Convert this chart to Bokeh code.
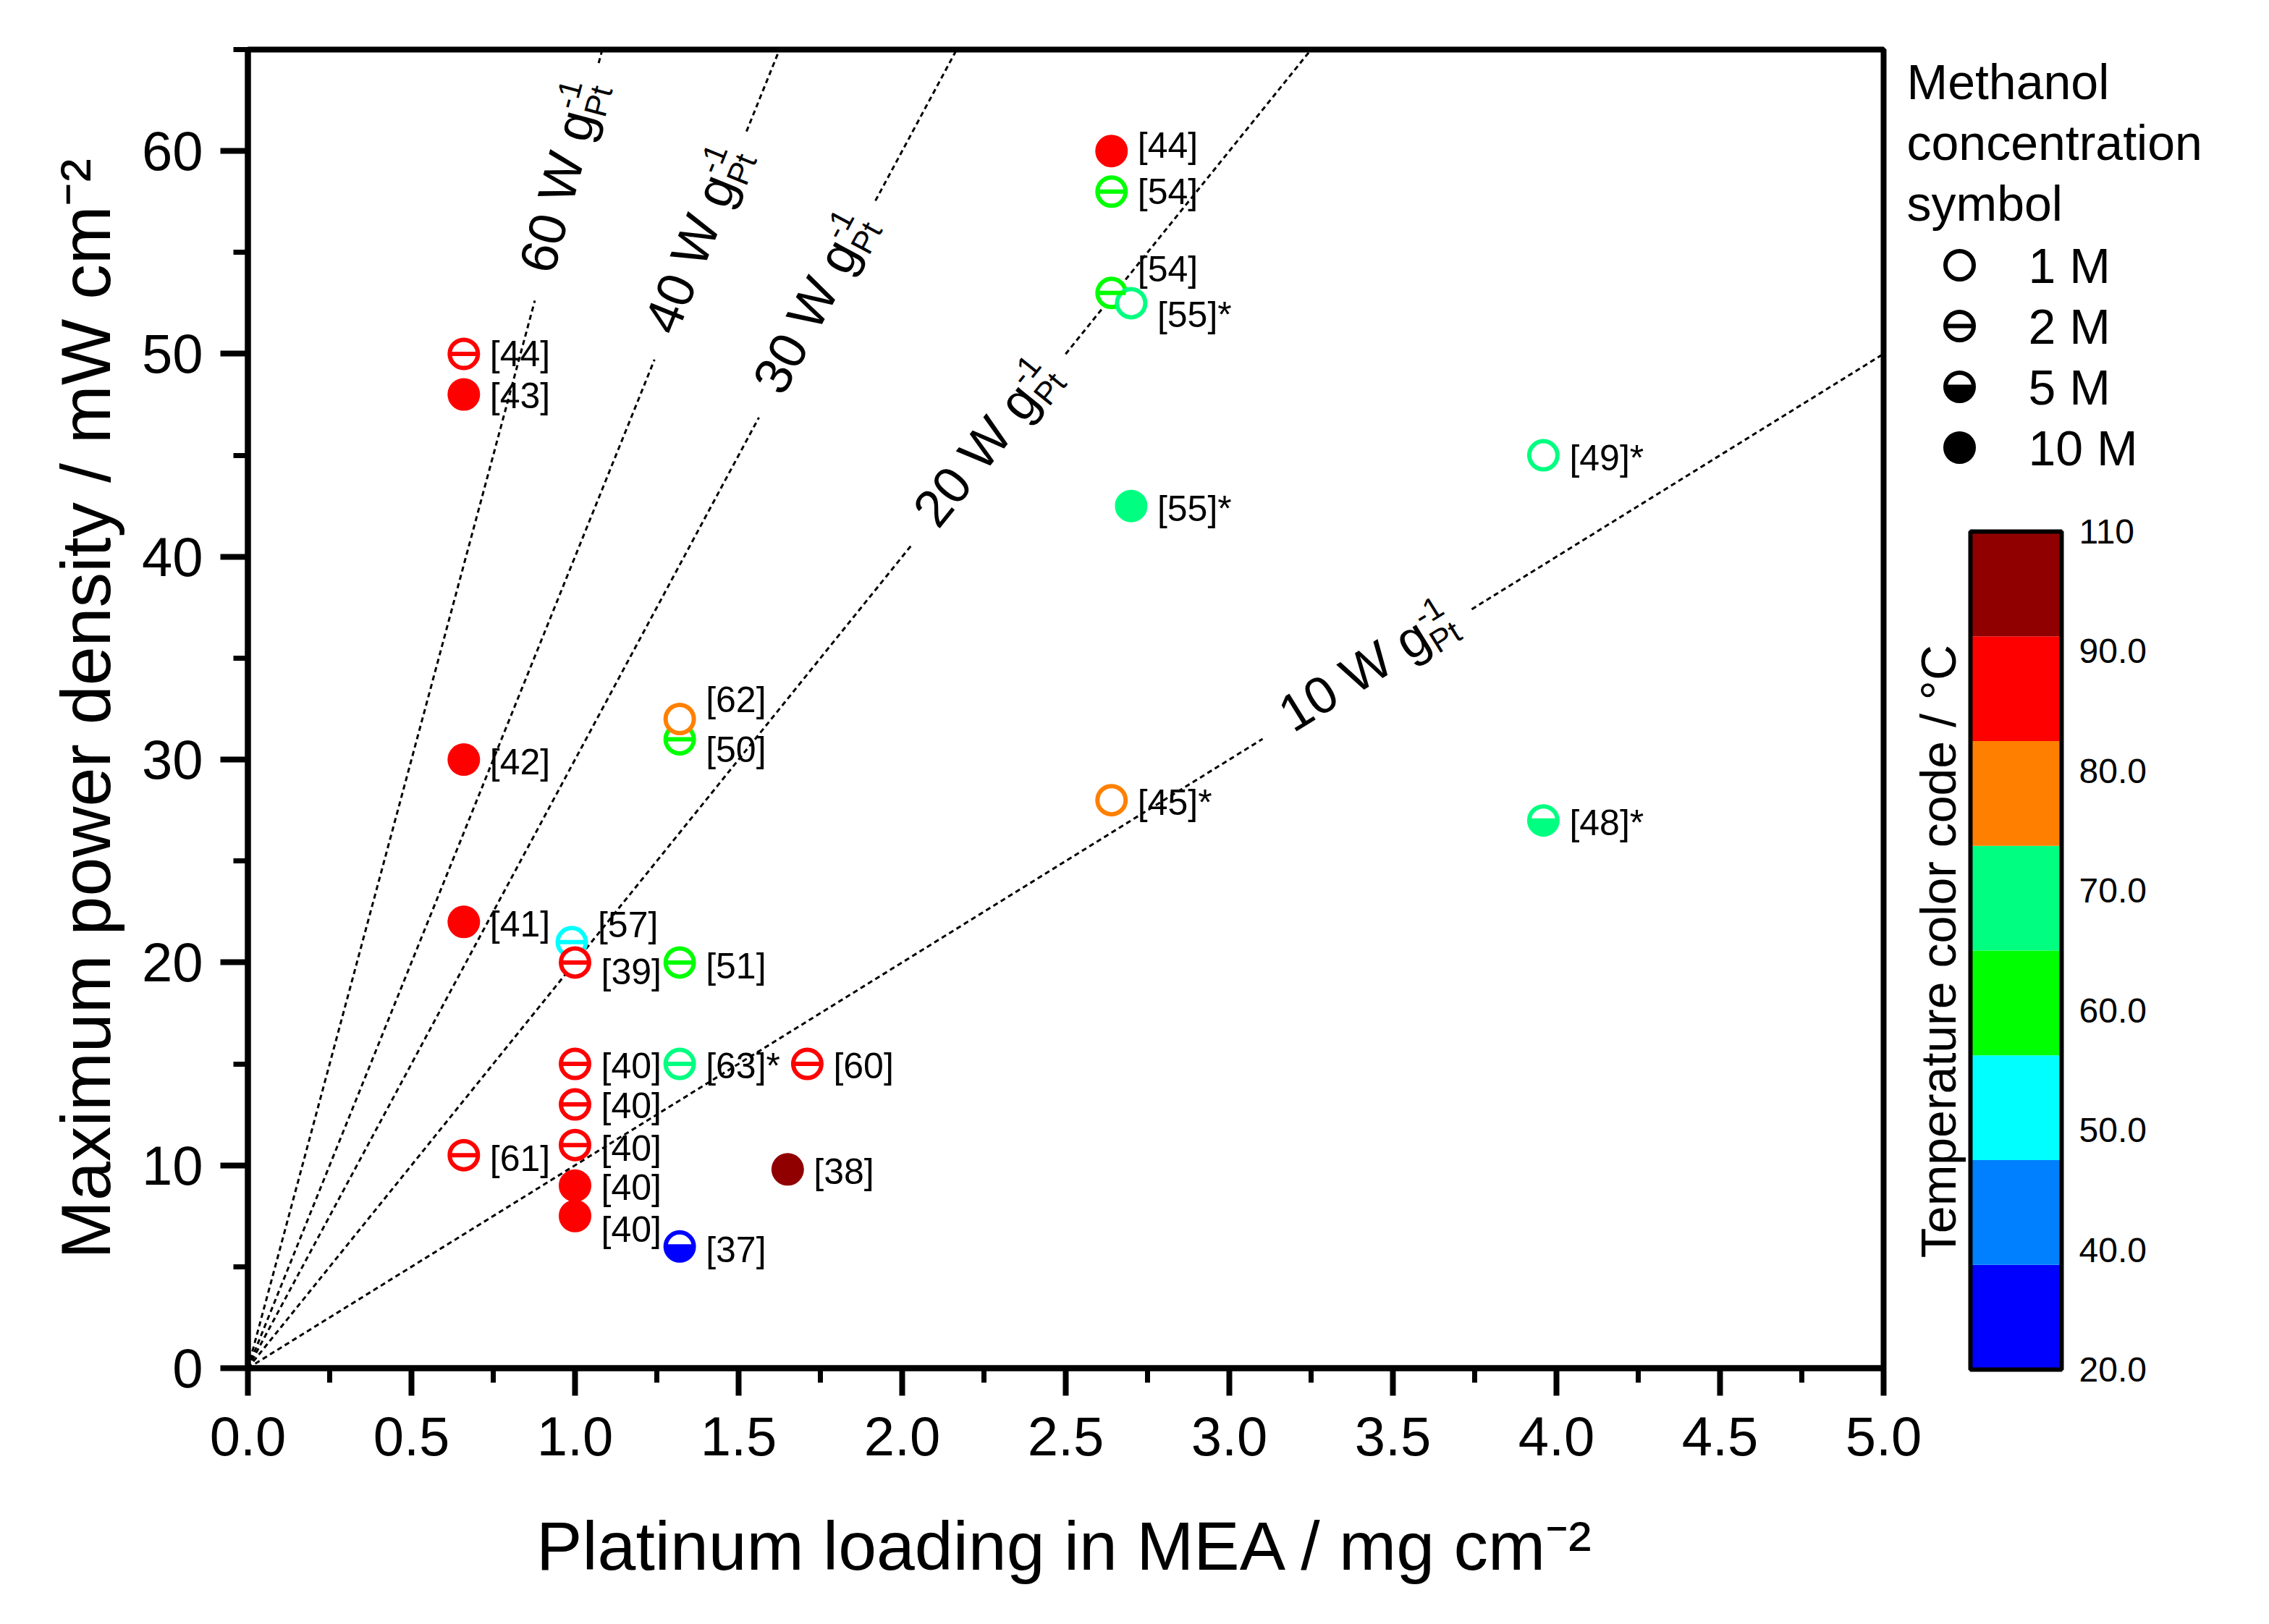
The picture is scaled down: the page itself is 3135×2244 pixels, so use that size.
import math
from bokeh.plotting import figure
from bokeh.models import Range1d, SingleIntervalTicker, NumeralTickFormatter
from bokeh.layouts import row, column
from bokeh.core.properties import value
from bokeh.embed import file_html
from bokeh.resources import INLINE

# ---------------- data ----------------
refs = ["[44]", "[54]", "[54]", "[55]*", "[55]*", "[49]*", "[48]*", "[45]*",
        "[44]", "[43]", "[42]", "[41]", "[61]", "[57]", "[39]", "[40]", "[40]",
        "[40]", "[40]", "[40]", "[50]", "[62]", "[51]", "[63]*", "[37]", "[38]", "[60]"]
pt_loading = [2.64, 2.64, 2.64, 2.70, 2.70, 3.96, 3.96, 2.64,
              0.66, 0.66, 0.66, 0.66, 0.66, 0.99, 1.00, 1.00, 1.00,
              1.00, 1.00, 1.00, 1.32, 1.32, 1.32, 1.32, 1.32, 1.65, 1.71]
power_density = [60, 58, 53, 52.5, 42.5, 45, 27, 28,
                 50, 48, 30, 22, 10.5, 21, 20, 15, 13,
                 11, 9, 7.5, 31, 32, 20, 15, 6, 9.8, 15]
temperature_C = [90, 60, 60, 70, 70, 70, 70, 80,
                 90, 90, 90, 90, 90, 50, 90, 90, 90,
                 90, 90, 90, 60, 80, 60, 70, 25, 100, 90]
methanol_M = [10, 2, 2, 1, 10, 1, 5, 1,
              2, 10, 10, 10, 2, 2, 2, 2, 2,
              2, 10, 10, 2, 1, 2, 2, 5, 10, 2]

rate_W_per_g = [10, 20, 30, 40, 60]
rate_texts = ["10 W g", "20 W g", "30 W g", "40 W g", "60 W g"]
rate_sup = "-1"
rate_sub = "Pt"

conc_levels = [1, 2, 5, 10]
conc_labels = ["1 M", "2 M", "5 M", "10 M"]
legend_title_lines = ["Methanol", "concentration", "symbol"]

band_lower_C = [20, 40, 50, 60, 70, 80, 90, 100]
band_colors = ["#0000FF", "#0080FF", "#00FFFF", "#00FF00",
               "#00FF80", "#FF8000", "#FF0000", "#910000"]
cbar_tick_labels = ["20.0", "40.0", "50.0", "60.0", "70.0", "80.0", "90.0", "110"]
cbar_title = "Temperature color code / °C"

x_title = "Platinum loading in MEA / mg cm\u207b\u00b2"
y_title = "Maximum power density / mW cm\u207b\u00b2"

# ---------------- layout / style ----------------
FONT = "Liberation Sans"
X_MIN, X_MAX = 0.0, 5.0
Y_MIN, Y_MAX = 0.0, 65.0
FRAME_W, FRAME_H = 2260, 1822
BORDER_L, BORDER_T, BORDER_B, BORDER_R = 342, 68, 320, 60
SX = FRAME_W / (X_MAX - X_MIN)
SY = FRAME_H / (Y_MAX - Y_MIN)

rate_label_x = [3.177, 2.083, 1.604, 1.276, 0.900]   # where each rate label starts along its line
label_dx_px = 36
label_dy_px = [-8, 0, -33, 16, 4, 4, 3, 3,
               0, 2, 3, 3, 5, -24, 13, 3, 2,
               5, 3, 19, 14, -27, 5, 3, 5, 3, 3]

R = 19.5      # marker radius (px)
RING_W = 6
MID = 0.35    # cap-middle above baseline, in font sizes


def temp_color(t):
    idx = 0
    for i, lo in enumerate(band_lower_C):
        if t >= lo:
            idx = i
    return band_colors[idx]


def draw_symbols(fig, xs, ys, colors, concs):
    w = [i for i, c in enumerate(concs) if c == 5]
    if w:
        fig.wedge(x=[xs[i] for i in w], y=[ys[i] for i in w], radius=R,
                  radius_units="screen", start_angle=math.pi, end_angle=2 * math.pi,
                  fill_color=[colors[i] for i in w], line_color=None)
    fills = [colors[i] if concs[i] == 10 else "white" for i in range(len(xs))]
    alphas = [0.0 if c == 5 else 1.0 for c in concs]
    fig.scatter(x=xs, y=ys, marker="circle", size=2 * R, line_width=RING_W,
                line_color=colors, fill_color=fills, fill_alpha=alphas)
    d = [i for i, c in enumerate(concs) if c in (2, 5)]
    if d:
        fig.scatter(x=[xs[i] for i in d], y=[ys[i] for i in d], marker="dash",
                    size=2 * R, line_width=RING_W, line_color=[colors[i] for i in d])


# ---------------- main plot ----------------
p = figure(frame_width=FRAME_W, frame_height=FRAME_H,
           x_range=Range1d(X_MIN, X_MAX), y_range=Range1d(Y_MIN, Y_MAX),
           output_backend="svg", toolbar_location=None, title=None,
           min_border_left=BORDER_L, min_border_right=BORDER_R,
           min_border_top=BORDER_T, min_border_bottom=BORDER_B)
p.xgrid.visible = False
p.ygrid.visible = False
p.outline_line_color = "black"
p.outline_line_width = 8
p.background_fill_color = "white"
p.border_fill_color = "white"

p.xaxis.ticker = SingleIntervalTicker(interval=0.5, num_minor_ticks=2)
p.yaxis.ticker = SingleIntervalTicker(interval=10, num_minor_ticks=2)
p.xaxis.formatter = NumeralTickFormatter(format="0.0")
p.xaxis.axis_label = x_title
p.yaxis.axis_label = y_title
for ax in (p.xaxis, p.yaxis):
    ax.axis_line_width = 8
    ax.axis_line_color = "black"
    ax.major_tick_line_width = 8
    ax.minor_tick_line_width = 7
    ax.major_tick_line_color = "black"
    ax.minor_tick_line_color = "black"
    ax.major_tick_out = 38
    ax.major_tick_in = 0
    ax.minor_tick_out = 20
    ax.minor_tick_in = 0
    ax.major_label_text_font = FONT
    ax.major_label_text_font_size = "76px"
    ax.major_label_text_color = "black"
    ax.axis_label_text_font = FONT
    ax.axis_label_text_font_style = "normal"
    ax.axis_label_text_color = "black"
p.xaxis.axis_label_text_font_size = "95px"
p.yaxis.axis_label_text_font_size = "97px"
p.xaxis.major_label_standoff = 29
p.yaxis.major_label_standoff = 24
p.xaxis.axis_label_standoff = 69
p.yaxis.axis_label_standoff = 20

# constant specific-power lines with their labels
F_MAIN, F_SMALL = 72, 44
W_MAIN = 3.168 * F_MAIN
BASE_OFF = -16                      # main-text baseline offset from the line (px)
line_xs, line_ys = [], []
lab = {"mx": [], "my": [], "mt": [], "ang": [], "sx": [], "sy": [], "bx": [], "by": []}
for r, t, txt in zip(rate_W_per_g, rate_label_x, rate_texts):
    th = math.atan(r * SY / SX)
    ux, uy = math.cos(th), math.sin(th)
    vx, vy = -math.sin(th), math.cos(th)

    def at(along, up, t=t, r=r, ux=ux, uy=uy, vx=vx, vy=vy):
        return (t + (along * ux + up * vx) / SX, r * t + (along * uy + up * vy) / SY)

    gap_lo = t - 40 * ux / SX
    gap_hi = t + 300 * ux / SX
    x_end = min(X_MAX, Y_MAX / r)
    line_xs += [[0, gap_lo], [gap_hi, x_end]]
    line_ys += [[0, r * gap_lo], [r * gap_hi, r * x_end]]
    mx, my = at(0, BASE_OFF + MID * F_MAIN)
    sx_, sy_ = at(W_MAIN, BASE_OFF + 0.42 * F_MAIN + MID * F_SMALL)
    bx, by = at(W_MAIN, BASE_OFF - 0.17 * F_MAIN + MID * F_SMALL)
    lab["mx"].append(mx); lab["my"].append(my); lab["mt"].append(txt); lab["ang"].append(th)
    lab["sx"].append(sx_); lab["sy"].append(sy_)
    lab["bx"].append(bx); lab["by"].append(by)

p.multi_line(xs=line_xs, ys=line_ys, line_color="black", line_width=3, line_dash="7 5")
p.text(x=lab["mx"], y=lab["my"], text=lab["mt"], angle=lab["ang"],
       text_font=value(FONT), text_font_size=f"{F_MAIN}px", text_align="left",
       text_baseline="middle", text_color="black")
p.text(x=lab["sx"], y=lab["sy"], text=[rate_sup] * len(rate_W_per_g), angle=lab["ang"],
       text_font=value(FONT), text_font_size=f"{F_SMALL}px", text_align="left",
       text_baseline="middle", text_color="black")
p.text(x=lab["bx"], y=lab["by"], text=[rate_sub] * len(rate_W_per_g), angle=lab["ang"],
       text_font=value(FONT), text_font_size=f"{F_SMALL}px", text_align="left",
       text_baseline="middle", text_color="black")

# data points
pt_colors = [temp_color(t) for t in temperature_C]
draw_symbols(p, pt_loading, power_density, pt_colors, methanol_M)

lx = [x + label_dx_px / SX for x in pt_loading]
ly = [y - dy / SY for y, dy in zip(power_density, label_dy_px)]
p.text(x=lx, y=ly, text=refs, text_font=value(FONT), text_font_size="50px",
       text_align="left", text_baseline="middle", text_color="black")

# ---------------- right panel: symbol legend + colour bar ----------------
# panel coordinates in px: x from the main frame's right edge, y upward from panel bottom
W2 = 500
H2 = BORDER_T + FRAME_H + BORDER_B
p2 = figure(width=W2, height=H2,
            x_range=Range1d(0, W2), y_range=Range1d(0, H2),
            output_backend="svg", toolbar_location=None, title=None,
            x_axis_location=None, y_axis_location=None,
            min_border=0, min_border_left=0, min_border_right=0,
            min_border_top=0, min_border_bottom=0)
p2.outline_line_color = None
p2.xgrid.visible = False
p2.ygrid.visible = False
p2.background_fill_color = None
p2.border_fill_color = None

TOP_SHIFT = 2      # reference px above the panel's top edge


def yt(v):
    return H2 - (v - TOP_SHIFT)


p2.text(x=[32] * len(legend_title_lines),
        y=[yt(138 - MID * 68 + 84 * i) for i in range(len(legend_title_lines))],
        text=legend_title_lines, text_font=value(FONT), text_font_size="68px",
        text_align="left", text_baseline="middle", text_color="black")

leg_y = [yt(368 + 84 * i) for i in range(len(conc_levels))]
draw_symbols(p2, [105] * len(conc_levels), leg_y, ["black"] * len(conc_levels), conc_levels)
p2.text(x=[200] * len(conc_labels), y=leg_y, text=conc_labels,
        text_font=value(FONT), text_font_size="68px", text_align="left",
        text_baseline="middle", text_color="black")

CB_L, CB_R, CB_T, CB_B = 120, 246, 736, 1894
band_h = (CB_B - CB_T) / len(band_colors)
p2.quad(left=CB_L, right=CB_R,
        bottom=[yt(CB_B) + i * band_h for i in range(len(band_colors))],
        top=[yt(CB_B) + (i + 1) * band_h for i in range(len(band_colors))],
        fill_color=band_colors, line_color=None)
p2.quad(left=[CB_L], right=[CB_R], bottom=[yt(CB_B)], top=[yt(CB_T)],
        fill_color=None, line_color="black", line_width=6)
tick_step = (CB_B - CB_T) / (len(cbar_tick_labels) - 1)
p2.text(x=[270] * len(cbar_tick_labels),
        y=[yt(CB_B) + k * tick_step for k in range(len(cbar_tick_labels))],
        text=cbar_tick_labels, text_font=value(FONT), text_font_size="48px",
        text_align="left", text_baseline="middle", text_color="black")
p2.text(x=[99 - MID * 68], y=[yt(1316)], text=[cbar_title], angle=[math.pi / 2],
        text_font=value(FONT), text_font_size="68px", text_align="center",
        text_baseline="middle", text_color="black")

panel = column(p2)
panel.margin = (0, 0, 0, -BORDER_R)
layout = row(p, panel)
open("out.html", "w").write(file_html(layout, INLINE))
